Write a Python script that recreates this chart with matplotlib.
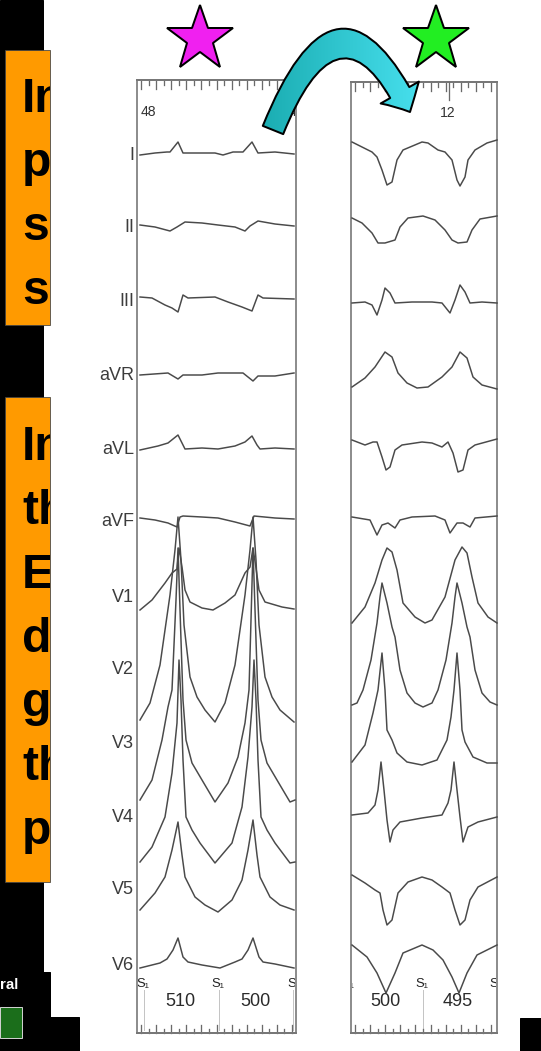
import numpy as np
import matplotlib.pyplot as plt
from matplotlib.patches import Rectangle, FancyArrowPatch, ArrowStyle
from matplotlib.colors import LinearSegmentedColormap
from matplotlib.transforms import Bbox

plt.rcParams['font.family'] = ['Liberation Sans', 'DejaVu Sans']

LEADS = ['I', 'II', 'III', 'aVR', 'aVL', 'aVF', 'V1', 'V2', 'V3', 'V4', 'V5', 'V6']

# ruler numbers on top of each strip, S1-S1 cycle lengths (ms) below
TOP_LEFT = ['48', '4']
TOP_RIGHT = ['12']
CYCLES_LEFT = ['510', '500']
CYCLES_RIGHT = ['500', '495']
STIM_LEFT = ['S\u2081', 'S\u2081', 'S']
STIM_RIGHT = ['S\u2081', 'S\u2081', 'S']

# text of the two (cut off) orange boxes
BOX1_LINES = ['In', 'pa', 'sp', 'si']
BOX2_LINES = ['In', 'th', 'EC', 'de', 'ge', 'th', 'pa']

# traces: time (px from strip edge), amplitude (px, up = +)
LEFT_TIME = [
    [2, 17, 29, 32, 40, 45, 64, 77, 85, 95, 105, 114, 120, 137, 156],
    [2, 17, 32, 39, 47, 64, 80, 97, 107, 112, 120, 137, 156],
    [2, 14, 27, 34, 40, 45, 50, 77, 90, 104, 114, 120, 125, 156],
    [2, 30, 40, 45, 64, 80, 105, 115, 120, 137, 156],
    [2, 20, 30, 40, 44, 47, 64, 80, 97, 107, 114, 119, 122, 137, 156],
    [2, 17, 30, 39, 42, 45, 64, 80, 97, 112, 116, 137, 156],
    [2, 14, 27, 34, 39, 41, 44, 47, 52, 64, 75, 87, 97, 107, 112, 115, 118, 121, 127, 144, 156],
    [2, 12, 22, 32, 37, 40, 43, 46, 52, 59, 67, 77, 87, 97, 107, 112, 115, 118, 121, 127, 134, 142, 156],
    [2, 14, 24, 30, 34, 38, 40, 43, 45, 48, 54, 64, 77, 90, 100, 107, 111, 113, 115, 118, 120, 123, 129, 139, 152, 157],
    [2, 14, 27, 34, 39, 41, 43, 45, 48, 54, 62, 77, 94, 104, 110, 114, 116, 118, 120, 123, 129, 137, 152, 157],
    [2, 17, 27, 34, 40, 44, 47, 57, 67, 80, 94, 104, 110, 115, 119, 122, 132, 142, 156],
    [2, 22, 29, 35, 40, 45, 50, 64, 82, 97, 104, 110, 115, 121, 125, 137, 156],
]
LEFT_AMP = [
    [0, 2, 3, 3, 13, 2, 2, 2, 0, 3, 3, 13, 2, 3, 1],
    [2, 0, -4, 0, 5, 4, 2, 0, -4, 1, 6, 3, 1],
    [4, 3, -4, -7, -11, 6, 3, 4, -1, -6, -10, 6, 3, 2],
    [0, 2, -4, 0, 0, 2, 2, -6, -1, -1, 2],
    [-1, 3, 6, 14, 6, 0, 1, 0, 3, 7, 13, 4, 0, 1, 0],
    [3, 1, -2, -6, 4, 5, 4, 3, -1, -5, 5, 3, 2],
    [-13, -3, 14, 24, 28, 49, 30, 7, -5, -11, -13, -6, 2, 24, 30, 49, 29, 7, -5, -10, -12],
    [-50, -33, 5, 75, 120, 153, 110, 45, -7, -27, -40, -52, -33, 5, 75, 120, 153, 110, 45, -7, -27, -40, -52],
    [-57, -37, 3, 36, 53, 143, 195, 103, 43, 3, -20, -37, -59, -40, -14, 20, 53, 123, 195, 103, 43, 3, -20, -37, -59, -57],
    [-45, -30, 0, 44, 94, 157, 117, 57, 0, -13, -26, -46, -26, 10, 60, 110, 157, 117, 57, 0, -13, -26, -46, -45],
    [-20, -3, 13, 40, 68, 35, 13, -7, -15, -22, -10, 10, 40, 70, 35, 13, -7, -15, -20],
    [-3, 2, 6, 15, 27, 8, 3, 0, -3, 3, 6, 15, 27, 8, 3, 1, -3],
]
RIGHT_TIME = [
    [0, 10, 20, 25, 30, 35, 40, 45, 51, 70, 76, 86, 93, 100, 105, 108, 113, 116, 123, 135, 145],
    [0, 10, 20, 26, 33, 43, 48, 56, 71, 83, 93, 100, 106, 115, 120, 128, 145],
    [0, 13, 20, 25, 30, 33, 38, 43, 60, 80, 90, 98, 103, 108, 113, 118, 130, 145],
    [0, 13, 23, 33, 40, 46, 55, 65, 76, 90, 100, 108, 115, 121, 130, 145],
    [0, 13, 21, 25, 30, 34, 38, 43, 50, 70, 80, 90, 96, 101, 106, 111, 116, 123, 145],
    [0, 18, 25, 30, 36, 43, 48, 60, 83, 93, 98, 105, 111, 118, 123, 145],
    [0, 13, 23, 30, 35, 40, 45, 51, 63, 73, 80, 93, 103, 110, 115, 120, 126, 136, 145],
    [0, 5, 11, 19, 25, 28, 30, 35, 40, 43, 48, 55, 63, 71, 80, 86, 94, 100, 103, 105, 110, 115, 118, 123, 130, 138, 145],
    [0, 13, 21, 26, 30, 33, 35, 40, 45, 55, 70, 85, 95, 99, 102, 105, 108, 110, 113, 121, 135, 145],
    [0, 16, 23, 26, 29, 32, 35, 38, 41, 48, 70, 90, 96, 99, 102, 105, 108, 111, 116, 126, 145],
    [0, 13, 23, 28, 31, 35, 40, 46, 56, 70, 80, 90, 98, 103, 108, 113, 118, 126, 145],
    [0, 15, 25, 34, 43, 51, 70, 81, 91, 100, 107, 115, 125, 145],
]
RIGHT_AMP = [
    [13, 8, 3, -2, -15, -30, -27, -5, 5, 13, 12, 5, 3, -5, -25, -31, -22, -5, 5, 12, 15],
    [9, 4, -6, -16, -16, -13, 0, 9, 11, 7, -3, -13, -16, -15, -3, 8, 11],
    [-2, -1, -4, -14, 1, 13, 8, -2, -1, -1, -2, -12, 1, 16, 9, -2, -1, -2],
    [-12, -3, 8, 23, 18, 2, -8, -13, -12, -2, 8, 23, 17, -2, -10, -14],
    [9, 4, 7, 7, -8, -21, -18, -1, 4, 7, 6, 2, 7, -4, -23, -21, -1, 4, 10],
    [4, 1, -14, -4, -2, -7, 1, 4, 5, 1, -12, -2, -2, -6, 3, 5],
    [-26, -10, 14, 37, 49, 45, 27, -6, -20, -26, -23, 0, 37, 50, 44, 20, -6, -20, -26],
    [-35, -33, -20, 10, 47, 73, 87, 67, 43, 33, 0, -23, -33, -37, -33, -20, 10, 47, 73, 87, 67, 43, 33, 0, -23, -32, -35],
    [-19, -2, 30, 53, 90, 53, 13, 3, -10, -19, -22, -17, 3, 26, 53, 90, 53, 13, 1, -14, -20, -20],
    [2, 4, 12, 27, 55, 27, -3, -25, -13, -5, -1, 2, 14, 27, 55, 27, 0, -25, -10, -5, 0],
    [15, 7, 0, -3, -20, -35, -30, -3, 8, 13, 10, 3, -3, -20, -35, -30, -10, 3, 13],
    [20, 8, -8, -28, -8, 12, 20, 15, 5, -12, -28, -8, 10, 20],
]

# layout (pixels)
W, H = 541, 1051
ROW_Y = [155, 227, 301, 375, 449, 521, 597, 670, 743, 817, 890, 965]
LEFT_X0, RIGHT_X0 = 138, 352
TRACE = '#4a4a4a'
FRAME = '#8e8e8e'


def clip_rect(x0, y0, x1, y1):
    # text can only be clipped by a box in Agg; box given in display pixels
    return Bbox.from_extents(x0, H - y1, x1, H - y0)


def draw_box(ax, y0, height, lines, baseline0):
    box = Rectangle((5, y0), 45, height, facecolor='#FF9A00', edgecolor='#444444',
                    lw=0.8, zorder=2)
    ax.add_patch(box)
    for i, s in enumerate(lines):
        t = ax.text(22, baseline0 + 64 * i, s, fontsize=48, weight='bold',
                    color='black', ha='left', va='baseline', zorder=3)
        t.set_clip_box(clip_rect(5, y0, 50, y0 + height))
        t.set_clip_on(True)


def draw_strip(ax, x0, top, width, times, amps):
    frame = Rectangle((x0 - 1, top), width, 1033 - top, fill=False,
                      edgecolor=FRAME, lw=2, zorder=4)
    ax.add_patch(frame)
    for t, a, y0 in zip(times, amps, ROW_Y):
        ax.plot(x0 + np.array(t), y0 - np.array(a), color=TRACE, lw=1.5,
                solid_joinstyle='round', zorder=5)
    # rulers
    for i, x in enumerate(np.arange(x0 + 3, x0 + width - 1, 7.55)):
        ln = 9 if i % 2 == 0 else 5
        ax.plot([x, x], [top, top + ln], color='#6a6a6a', lw=1.3, zorder=4)
        ln = 8 if i % 2 == 0 else 4
        ax.plot([x, x], [1033, 1033 - ln], color='#6a6a6a', lw=1.3, zorder=4)
    ax.plot([x0 - 1, x0 + width - 1], [top, top], color='#777777', lw=2, zorder=4)
    ax.plot([x0 - 1, x0 + width - 1], [1033, 1033], color='#777777', lw=2, zorder=4)
    return clip_rect(x0, top, x0 + width - 2, 1033)


fig = plt.figure(figsize=(W / 72, H / 72), dpi=72, facecolor='white')
ax = fig.add_axes([0, 0, 1, 1])
ax.set_xlim(0, W)
ax.set_ylim(H, 0)

# black slide background on the left and bottom right
for (x, y, w, h) in [(0, 0, 43, 1017), (0, 972, 50, 45), (0, 1017, 79, 34), (520, 1018, 21, 33)]:
    ax.add_patch(Rectangle((x, y), w, h, color='black', zorder=1))
ax.text(18, 985, 'ral', color='white', fontsize=15, weight='bold',
        ha='right', va='center', zorder=3)
ax.add_patch(Rectangle((0, 1007), 22, 31, facecolor='#1B6E1B', edgecolor='#cfcfcf',
                       lw=1, zorder=2))

draw_box(ax, 50, 275, BOX1_LINES, 112)
draw_box(ax, 397, 485, BOX2_LINES, 460)

left_clip = draw_strip(ax, LEFT_X0, 80, 159, LEFT_TIME, LEFT_AMP)
right_clip = draw_strip(ax, RIGHT_X0, 82, 146, RIGHT_TIME, RIGHT_AMP)
ax.plot([449, 449], [82, 100], color='#6a6a6a', lw=1.3, zorder=4)

for name, y in zip(LEADS, ROW_Y):
    ax.text(134, y, name, fontsize=18, color='#3c3c3c', ha='right', va='center')

ax.text(141, 112, TOP_LEFT[0], fontsize=14, color='#333333', va='center')
ax.text(289, 112, TOP_LEFT[1], fontsize=14, color='#333333', va='center')
ax.text(440, 113, TOP_RIGHT[0], fontsize=14, color='#333333', va='center')

# S1 markers and cycle lengths
for clip, xs, labels, lines, cyc, cxs in [
        (left_clip, [136, 211, 287], STIM_LEFT, [144, 219, 293], CYCLES_LEFT, [180, 255]),
        (right_clip, [341, 415, 489], STIM_RIGHT, [423, 496], CYCLES_RIGHT, [385, 458])]:
    for x, s in zip(xs, labels):
        t = ax.text(x, 984, s, fontsize=13, color='#222222', ha='left', va='center', zorder=6)
        t.set_clip_box(clip)
        t.set_clip_on(True)
    for x in lines:
        ax.plot([x, x], [990, 1030], color='#c4c4c4', lw=1, zorder=3)
    for x, s in zip(cxs, cyc):
        ax.text(x, 1002, s, fontsize=18, color='#2a2a2a', ha='center', va='center', zorder=6)

# stars
ax.plot(200, 39, marker='*', ms=69, mfc='#F020F0', mec='black', mew=2, zorder=9)
ax.plot(436, 39, marker='*', ms=69, mfc='#22EE22', mec='black', mew=2, zorder=9)

# curved cyan arrow from the pace-map strip to the clinical one
arrow = FancyArrowPatch((273, 130), (410, 112), connectionstyle='angle3,angleA=68,angleB=116',
                        arrowstyle=ArrowStyle.Simple(head_length=22, head_width=44, tail_width=22),
                        mutation_scale=1, shrinkA=0, shrinkB=0, facecolor='none',
                        edgecolor='black', lw=2, zorder=8)
ax.add_patch(arrow)
grad = np.linspace(0, 1, 256).reshape(1, -1)
cmap = LinearSegmentedColormap.from_list('arrow', ['#17A9AD', '#4BE4F3'])
im = ax.imshow(grad, cmap=cmap, extent=(250, 435, 140, 20), aspect='auto',
               interpolation='bilinear', zorder=7)
im.set_clip_path(arrow)

ax.set_xlim(0, W)
ax.set_ylim(H, 0)
ax.axis('off')
fig.savefig('out.png', dpi=72, facecolor='white')
